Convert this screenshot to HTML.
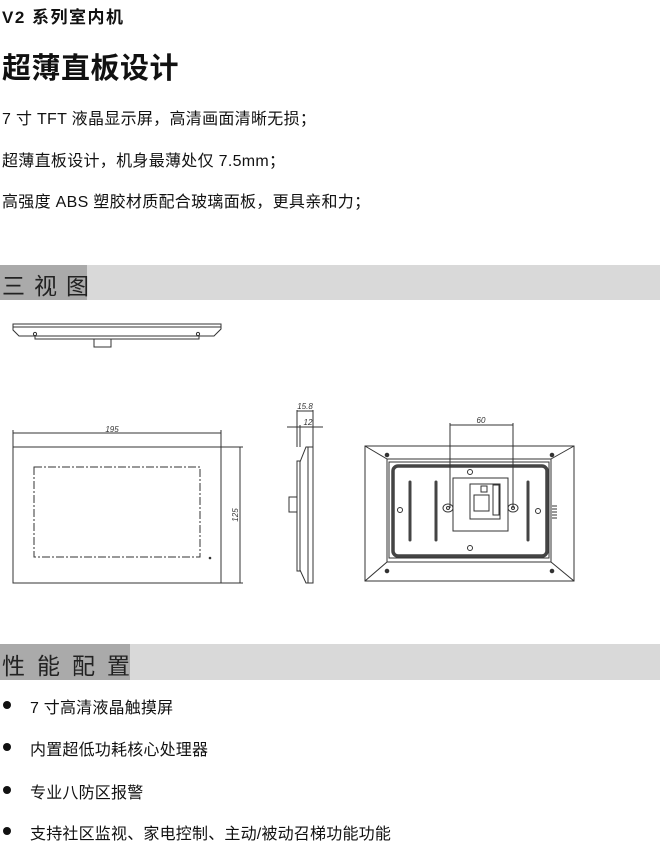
<!DOCTYPE html>
<html><head><meta charset="utf-8"><style>
body{margin:0;width:660px;height:839px;background:#fff;position:relative;overflow:hidden;font-family:"Liberation Sans","Noto Sans CJK SC",sans-serif;color:#111}
.t{position:absolute;left:2px;white-space:nowrap}
.bar{position:absolute;left:0;width:660px;background:#d9d9d9}
.bar .d{position:absolute;left:0;top:0;bottom:0;background:#aaaaaa}
.bar span{position:absolute;left:2px;font-size:23px;letter-spacing:9px;color:#222}
.b{position:absolute;left:30px;font-size:16px;letter-spacing:0.2px;white-space:nowrap}
.dot{position:absolute;left:3px;width:8px;height:8px;border-radius:50%;background:#111}
</style></head><body>
<div class="t" style="top:3px;font-size:17px;font-weight:bold;letter-spacing:1.5px">V2 系列室内机</div>
<div class="t" style="top:45px;font-size:29px;font-weight:bold;letter-spacing:0.5px">超薄直板设计</div>
<div class="t" style="top:105px;font-size:16px;letter-spacing:0.3px">7 寸 TFT 液晶显示屏，高清画面清晰无损；</div>
<div class="t" style="top:147px;font-size:16px;letter-spacing:0.3px">超薄直板设计，机身最薄处仅 7.5mm；</div>
<div class="t" style="top:188px;font-size:16px;letter-spacing:0.3px">高强度 ABS 塑胶材质配合玻璃面板，更具亲和力；</div>
<div class="bar" style="top:265px;height:35px"><div class="d" style="width:87px"></div><span style="top:2px">三视图</span></div>
<div class="bar" style="top:644px;height:36px"><div class="d" style="width:130px"></div><span style="top:3px;letter-spacing:12px">性能配置</span></div>
<svg style="position:absolute;left:0;top:0" width="660" height="839" fill="none" stroke="#333" stroke-width="1">
<path d="M13 324H221V329L214 336H19L13 330Z"/><line x1="13" y1="327" x2="221" y2="327"/>
<path d="M35 336V339H199V336"/><rect x="94" y="339" width="17" height="8"/>
<circle cx="35" cy="334" r="1.6"/><circle cx="198" cy="334" r="1.6"/>
<rect x="13" y="447" width="208" height="136"/>
<rect x="34" y="467" width="166" height="90" stroke-dasharray="8,2,2,2"/>
<line x1="13" y1="433" x2="221" y2="433"/><line x1="13" y1="430" x2="13" y2="447"/><line x1="221" y1="430" x2="221" y2="447"/>
<line x1="221" y1="447" x2="243" y2="447"/><line x1="221" y1="583" x2="243" y2="583"/><line x1="240" y1="447" x2="240" y2="583"/>
<text x="112" y="432" font-size="8" fill="#333" stroke="none" font-style="italic" text-anchor="middle">195</text>
<text x="238" y="515" font-size="8" fill="#333" stroke="none" font-style="italic" transform="rotate(-90 238 515)" text-anchor="middle">125</text>
<circle cx="210" cy="558" r="0.8" fill="#333"/>
<path d="M313 447H306L300 462V570L306 583H313Z"/><line x1="308" y1="447" x2="308" y2="583"/>
<rect x="297" y="461" width="3" height="110"/><rect x="289" y="497" width="8" height="15"/>
<line x1="297" y1="410" x2="297" y2="447"/><line x1="313" y1="410" x2="313" y2="447"/><line x1="300" y1="425" x2="300" y2="447"/>
<line x1="297" y1="411" x2="313" y2="411"/><line x1="287" y1="427" x2="323" y2="427"/>
<text x="305" y="409" font-size="8" fill="#333" stroke="none" font-style="italic" text-anchor="middle">15.8</text>
<text x="308" y="425" font-size="8" fill="#333" stroke="none" font-style="italic" text-anchor="middle">12</text>
<rect x="365" y="446" width="209" height="135"/>
<rect x="387" y="459" width="164" height="103"/>
<line x1="365" y1="446" x2="387" y2="459"/><line x1="574" y1="446" x2="551" y2="459"/><line x1="365" y1="581" x2="387" y2="562"/><line x1="574" y1="581" x2="551" y2="562"/>
<rect x="393" y="466" width="154" height="90" rx="5" stroke="#444" stroke-width="3.5"/>
<rect x="389" y="462" width="160" height="96"/>
<g stroke="#444" stroke-width="3" stroke-linecap="round"><line x1="410" y1="482" x2="410" y2="540"/><line x1="436" y1="482" x2="436" y2="540"/><line x1="528" y1="482" x2="528" y2="540"/></g>
<path d="M453 478H508V531H453Z"/><rect x="470" y="484" width="30" height="35"/><rect x="474" y="495" width="15" height="16"/><rect x="481" y="486" width="6" height="6"/><rect x="493" y="485" width="6" height="30"/>
<ellipse cx="448" cy="508" rx="5" ry="4"/><ellipse cx="513" cy="508" rx="5" ry="4"/>
<circle cx="448" cy="508" r="1.5"/><circle cx="513" cy="508" r="1.5"/>
<circle cx="470" cy="472" r="2.5"/><circle cx="470" cy="548" r="2.5"/><circle cx="400" cy="510" r="2.5"/><circle cx="538" cy="511" r="2.5"/>
<circle cx="387" cy="455" r="1.8" fill="#333"/><circle cx="552" cy="455" r="1.8" fill="#333"/><circle cx="387" cy="571" r="1.8" fill="#333"/><circle cx="552" cy="571" r="1.8" fill="#333"/>
<g><line x1="552" y1="506" x2="557" y2="506"/><line x1="552" y1="509" x2="557" y2="509"/><line x1="552" y1="512" x2="557" y2="512"/><line x1="552" y1="515" x2="557" y2="515"/><line x1="552" y1="518" x2="557" y2="518"/></g>
<line x1="450" y1="423" x2="450" y2="508"/><line x1="513" y1="423" x2="513" y2="508"/><line x1="450" y1="425" x2="513" y2="425"/>
<text x="481" y="423" font-size="8" fill="#333" stroke="none" font-style="italic" text-anchor="middle">60</text>
</svg>
<div class="dot" style="top:701px"></div><div class="b" style="top:694px">7 寸高清液晶触摸屏</div>
<div class="dot" style="top:743px"></div><div class="b" style="top:736px">内置超低功耗核心处理器</div>
<div class="dot" style="top:786px"></div><div class="b" style="top:779px">专业八防区报警</div>
<div class="dot" style="top:827px"></div><div class="b" style="top:820px">支持社区监视、家电控制、主动/被动召梯功能功能</div>
</body></html>
